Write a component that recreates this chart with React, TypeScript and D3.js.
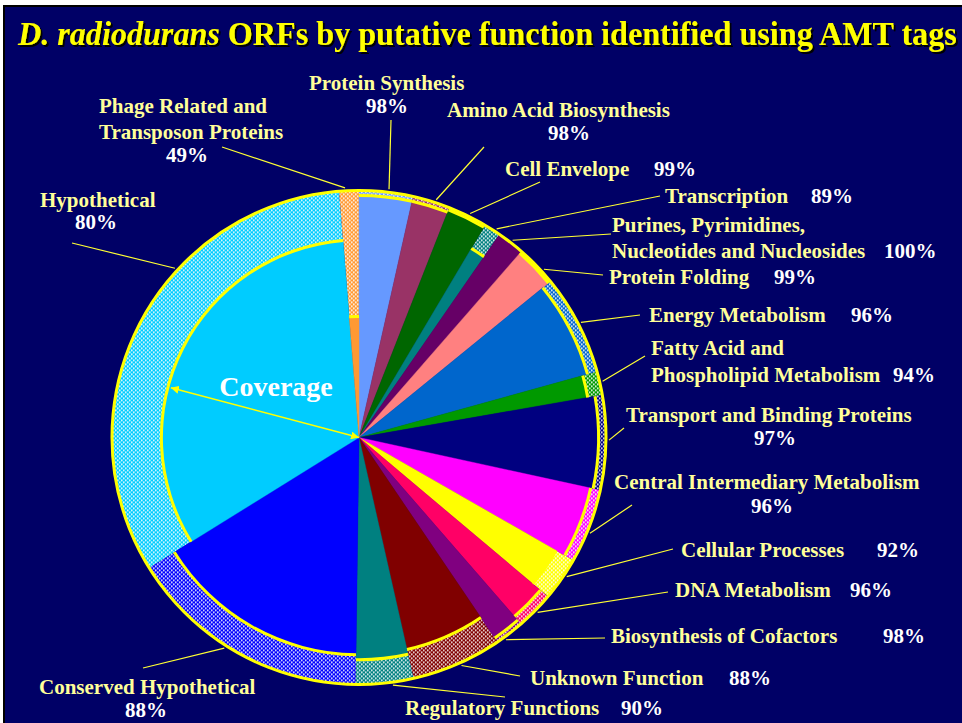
import React, { useEffect, useRef } from 'react';
import * as d3 from 'd3';

// ORF categories, clockwise from 12 o'clock
const categories = [
  'Protein Synthesis', 'Amino Acid Biosynthesis', 'Cell Envelope', 'Transcription',
  'Purines, Pyrimidines, Nucleotides and Nucleosides', 'Protein Folding', 'Energy Metabolism',
  'Fatty Acid and Phospholipid Metabolism', 'Transport and Binding Proteins',
  'Central Intermediary Metabolism', 'Cellular Processes', 'DNA Metabolism',
  'Biosynthesis of Cofactors', 'Unknown Function', 'Regulatory Functions',
  'Conserved Hypothetical', 'Hypothetical', 'Phage Related and Transposon Proteins'
];
// number of ORFs per category (slice size)
const orfCounts = [112, 78, 82, 35, 57, 86, 210, 49, 197, 155, 91, 79, 61, 189, 120, 508, 1038, 41];
// % identified with AMT tags (radius of the solid part)
const coverage = [98, 98, 99, 89, 100, 99, 96, 94, 97, 96, 92, 96, 98, 88, 90, 88, 80, 49];

const sliceColors = [
  '#6699FF', '#993366', '#006600', '#008080', '#660066', '#FF8080', '#0066CC', '#009900',
  '#000080', '#FF00FF', '#FFFF00', '#FF0066', '#800080', '#800000', '#008080', '#0000FF',
  '#00CCFF', '#FF9933'
];

// label layout: text lines [x, baseline], pct position, leader start angle (deg) and end point
const labelLayout = [
  { lines: [['Protein Synthesis', 309, 90]], pct: [366, 113], lead: [6.9, 391, 120] },
  { lines: [['Amino Acid Biosynthesis', 447, 117]], pct: [548, 140], lead: [18, 484, 147] },
  { lines: [['Cell Envelope', 505, 176]], pct: [654, 176], lead: [26.4, 540, 182] },
  { lines: [['Transcription', 665, 203]], pct: [811, 203], lead: [33.4, 660, 196] },
  { lines: [['Purines, Pyrimidines,', 612, 232], ['Nucleotides and Nucleosides', 612, 258]], pct: [884, 258], lead: [37.9, 611, 234] },
  { lines: [['Protein Folding', 609, 284]], pct: [774, 284], lead: [47.7, 603, 275] },
  { lines: [['Energy Metabolism', 649, 322]], pct: [851, 322], lead: [62.6, 640, 315] },
  { lines: [['Fatty Acid and', 651, 355], ['Phospholipid Metabolism', 651, 382]], pct: [893, 382], lead: [77, 645, 356] },
  { lines: [['Transport and Binding Proteins', 626, 422]], pct: [754, 445], lead: [90.6, 624, 428] },
  { lines: [['Central Intermediary Metabolism', 614, 489]], pct: [751, 513], lead: [112.5, 632, 505] },
  { lines: [['Cellular Processes', 681, 557]], pct: [877, 557], lead: [123.8, 673, 549] },
  { lines: [['DNA Metabolism', 675, 597]], pct: [850, 597], lead: [134.4, 668, 592] },
  { lines: [['Biosynthesis of Cofactors', 611, 643]], pct: [883, 643], lead: [144, 605, 638] },
  { lines: [['Unknown Function', 530, 685]], pct: [729, 685], lead: [155.8, 520, 676] },
  { lines: [['Regulatory Functions', 405, 715]], pct: [621, 715], lead: [172.2, 505, 697] },
  { lines: [['Conserved Hypothetical', 39, 694]], pct: [125, 717], lead: [212.6, 143, 668] },
  { lines: [['Hypothetical', 40, 207]], pct: [75, 229], lead: [312.6, 72, 243] },
  { lines: [['Phage Related and', 99, 113], ['Transposon Proteins', 99, 139]], pct: [166, 162], lead: [356.8, 222, 147] }
];

const titleItalic = 'D. radiodurans';
const titleRest = ' ORFs by putative function identified using AMT tags';

const FONT = '"Liberation Serif", "Times New Roman", serif';

export default function App() {
  const ref = useRef<SVGSVGElement>(null);

  useEffect(() => {
    const svg = d3.select(ref.current);
    svg.selectAll('*').remove();
    drawChart(svg);
  }, []);

  return (
    <svg ref={ref} width={962} height={723}
      style={{ position: 'absolute', left: 0, top: 0, display: 'block' }} />
  );
}

function drawChart(svg: any) {
  const cx = 359, cy = 437.5, R = 247;

  // frame
  svg.append('rect').attr('width', 962).attr('height', 723).attr('fill', '#FFFFFF');
  svg.append('rect').attr('x', 3).attr('y', 5).attr('width', 962).attr('height', 723).attr('fill', '#000000');
  svg.append('rect').attr('x', 5).attr('y', 7).attr('width', 962).attr('height', 723).attr('fill', '#000066');

  // dotted fill patterns, one per slice colour
  const defs = svg.append('defs');
  sliceColors.forEach((c, i) => {
    const p = defs.append('pattern')
      .attr('id', `dots-${i}`)
      .attr('patternUnits', 'userSpaceOnUse')
      .attr('width', 4).attr('height', 4);
    p.append('rect').attr('width', 4).attr('height', 4).attr('fill', c);
    p.append('rect').attr('x', 0).attr('y', 0).attr('width', 1.6).attr('height', 1.6).attr('fill', '#FFFFFF');
    p.append('rect').attr('x', 2).attr('y', 2).attr('width', 1.6).attr('height', 1.6).attr('fill', '#FFFFFF');
  });
  defs.append('marker')
    .attr('id', 'arrowHead')
    .attr('viewBox', '0 0 10 10')
    .attr('refX', 10).attr('refY', 5)
    .attr('markerWidth', 8).attr('markerHeight', 8)
    .attr('markerUnits', 'userSpaceOnUse')
    .attr('orient', 'auto-start-reverse')
    .append('path').attr('d', 'M0,0L10,5L0,10z').attr('fill', '#FFFF00');
  defs.append('filter')
    .attr('id', 'titleShadow')
    .attr('x', '-5%').attr('y', '-20%').attr('width', '110%').attr('height', '140%')
    .append('feDropShadow')
    .attr('dx', 2).attr('dy', 2).attr('stdDeviation', 0)
    .attr('flood-color', '#000000').attr('flood-opacity', 1);

  // title
  const main = svg.append('text')
    .attr('x', 0).attr('y', 0)
    .attr('font-family', FONT).attr('font-weight', 'bold').attr('font-size', 34)
    .attr('fill', '#FFFF00')
    .attr('filter', 'url(#titleShadow)');
  main.append('tspan').attr('font-style', 'italic').text(titleItalic);
  main.append('tspan').text(titleRest);
  const w = main.node().getComputedTextLength();
  main.attr('transform', `translate(18,45) scale(${939 / w},1)`);

  const pie = d3.pie<number>().sort(null).value((d) => d);
  const slices = pie(orfCounts);
  const r = d3.scaleLinear().domain([0, 100]).range([0, R]);
  const arc = d3.arc<any>();

  const g = svg.append('g').attr('transform', `translate(${cx},${cy})`);

  // uncovered (dotted) outer part
  g.selectAll('path.outer').data(slices).join('path')
    .attr('class', 'outer')
    .attr('d', (d: any) => arc({ innerRadius: r(coverage[d.index]), outerRadius: R, startAngle: d.startAngle, endAngle: d.endAngle }))
    .attr('fill', (d: any) => `url(#dots-${d.index})`);

  // covered (solid) part
  g.selectAll('path.inner').data(slices).join('path')
    .attr('class', 'inner')
    .attr('d', (d: any) => arc({ innerRadius: 0, outerRadius: r(coverage[d.index]), startAngle: d.startAngle, endAngle: d.endAngle }))
    .attr('fill', (d: any) => sliceColors[d.index])
    .attr('stroke', (d: any) => sliceColors[d.index])
    .attr('stroke-width', 0.4);

  // yellow rim at coverage radius
  g.selectAll('path.rim').data(slices.filter((d: any) => coverage[d.index] < 100)).join('path')
    .attr('class', 'rim')
    .attr('d', (d: any) => arc({ innerRadius: r(coverage[d.index]) - 1.5, outerRadius: r(coverage[d.index]) + 1.5, startAngle: d.startAngle, endAngle: d.endAngle }))
    .attr('fill', '#FFFF00');

  g.append('circle').attr('r', R).attr('fill', 'none').attr('stroke', '#FFFF00').attr('stroke-width', 3);

  // coverage arrow into the Hypothetical slice
  const hyp = 16;
  const arrowAngle = (284.8 * Math.PI) / 180;
  const ar = r(coverage[hyp]) - 3;
  g.append('line')
    .attr('x1', 0).attr('y1', 0)
    .attr('x2', ar * Math.sin(arrowAngle)).attr('y2', -ar * Math.cos(arrowAngle))
    .attr('stroke', '#FFFF00').attr('stroke-width', 1.5)
    .attr('marker-start', 'url(#arrowHead)')
    .attr('marker-end', 'url(#arrowHead)');
  g.append('text')
    .attr('x', 276 - cx).attr('y', 396 - cy)
    .attr('text-anchor', 'middle')
    .attr('font-family', FONT).attr('font-weight', 'bold').attr('font-size', 28)
    .attr('fill', '#FFFFFF')
    .text('Coverage');

  // leader lines
  labelLayout.forEach((L) => {
    const a = (L.lead[0] * Math.PI) / 180;
    svg.append('line')
      .attr('x1', cx + (R + 3) * Math.sin(a)).attr('y1', cy - (R + 3) * Math.cos(a))
      .attr('x2', L.lead[1]).attr('y2', L.lead[2])
      .attr('stroke', '#FFFF33').attr('stroke-width', 1.2);
  });

  // labels
  const labels = svg.append('g')
    .attr('font-family', FONT).attr('font-weight', 'bold').attr('font-size', 21);
  labelLayout.forEach((L, i) => {
    L.lines.forEach((ln: any) => {
      labels.append('text').attr('x', ln[1]).attr('y', ln[2]).attr('fill', '#FFFF99').text(ln[0]);
    });
    labels.append('text').attr('x', L.pct[0]).attr('y', L.pct[1]).attr('fill', '#FFFFFF').text(`${coverage[i]}%`);
  });
}
